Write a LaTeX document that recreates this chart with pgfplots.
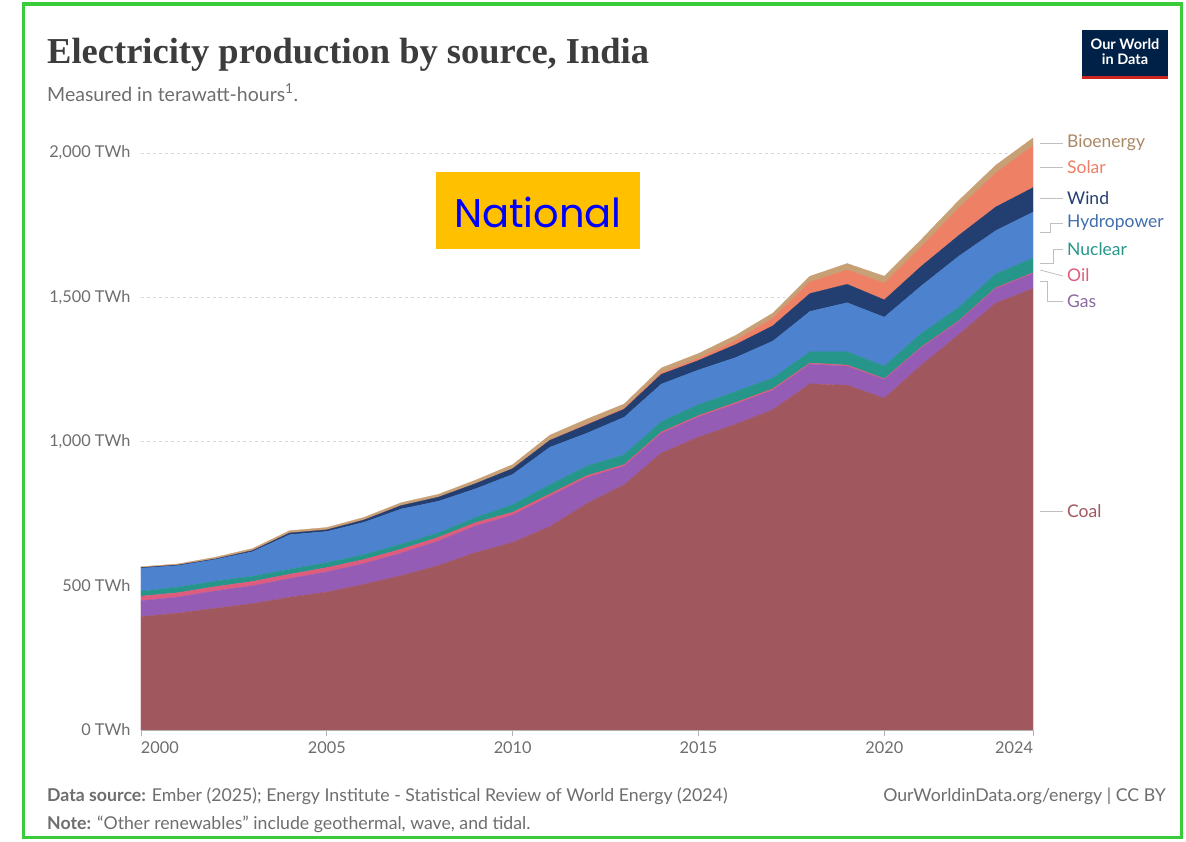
\documentclass[border=0pt]{standalone}
\usepackage{fontspec}
\usepackage{pgfplots}
\usepackage{pgfplotstable}
\pgfplotsset{compat=1.18}
\setmainfont{Lato}
\newfontfamily\titlefont{Liberation Serif}
\newfontfamily\natfont{Poppins}
\definecolor{coalc}{RGB}{161,87,94}
\definecolor{gasc}{RGB}{148,92,180}
\definecolor{oilc}{RGB}{222,92,125}
\definecolor{nucc}{RGB}{38,150,138}
\definecolor{hydc}{RGB}{76,130,206}
\definecolor{windc}{RGB}{35,62,112}
\definecolor{solc}{RGB}{238,128,102}
\definecolor{bioc}{RGB}{200,160,118}
\definecolor{bordc}{RGB}{57,203,57}
\definecolor{owidnavy}{RGB}{0,33,71}
\definecolor{owidred}{RGB}{206,38,30}
\definecolor{txtgray}{RGB}{110,110,110}
\definecolor{titlec}{RGB}{60,60,60}
\definecolor{natbox}{RGB}{255,192,0}
\pgfplotstableread{
year coal gas oil nuclear hydro wind solar bio
2000 393 55 16 17 80 2 0 3
2001 405 56 15 19 75 2 0 4
2002 422 60 15 19 75 2 0 6
2003 438 62 15 18 85 4 0 7
2004 460 65 15 17 120 6 0 8
2005 478 70 15 17 108 6 0 8
2006 505 72 14 17 112 8 0 9
2007 535 78 14 17 122 12 0 10
2008 570 85 13 15 110 14 0 10
2009 615 92 12 17 100 18 0 12
2010 650 95 10 26 105 20 0 14
2011 705 105 8 32 130 24 1 17
2012 785 90 7 33 114 29 2 18
2013 850 65 5 34 130 28 3 15
2014 960 68 5 36 130 34 5 17
2015 1015 70 5 38 120 33 7 17
2016 1060 70 5 38 118 45 14 18
2017 1110 68 5 37 128 53 26 18
2018 1200 68 4 39 140 62 40 20
2019 1195 66 4 46 170 64 50 22
2020 1150 65 3 43 170 60 58 24
2021 1265 60 3 47 165 68 68 25
2022 1370 45 3 46 178 72 95 26
2023 1480 50 3 48 150 82 118 27
2024 1530 52 3 50 160 85 145 27
}\india
\begin{document}
\begin{tikzpicture}[x=1pt,y=1pt]
\fill[white] (0,0) rectangle (1186,-841);
\draw[bordc, line width=3.5pt] (23.5,-4) rectangle (1181.5,-837.5);
% title
\node[anchor=base west, inner sep=0, text=titlec] at (47,-63) {\titlefont\bfseries\fontsize{36.5}{36.5}\selectfont Electricity production by source, India};
\node[anchor=base west, inner sep=0, text=txtgray] at (47,-101) {\fontsize{19.5}{19.5}\selectfont Measured in terawatt-hours\textsuperscript{1}.};
% logo
\fill[owidnavy] (1082,-30) rectangle (1168,-79);
\fill[owidred] (1082,-76) rectangle (1168,-79);
\node[text=white, align=center, inner sep=0, font=\bfseries\fontsize{14.5}{15}\selectfont] at (1125,-52) {Our World\\in Data};
\begin{axis}[
  at={(141pt,-730pt)}, anchor=south west, scale only axis,
  width=892pt, height=594.3pt,
  xmin=2000, xmax=2024, ymin=0, ymax=2060,
  stack plots=y,
  axis line style={draw=none},
  xtick={2000,2005,2010,2015,2020,2024},
  xticklabels={\makebox[0pt][l]{2000},2005,2010,2015,2020,\makebox[0pt][r]{2024}},
  xtick pos=bottom, ytick pos=left,
  tick align=outside, major tick length=6pt,
  xtick style={draw=gray!60, line width=0.8pt},
  ytick={0,500,1000,1500,2000},
  yticklabels={0 TWh,500 TWh,{1,000 TWh},{1,500 TWh},{2,000 TWh}},
  ytick style={draw=none},
  ymajorgrids,
  grid style={gray!30, dash pattern=on 3pt off 3pt, line width=1pt},
  tick label style={font=\fontsize{16.3}{16.3}\selectfont, text=txtgray},
  yticklabel style={xshift=-1pt},
  xticklabel style={yshift=-2pt},
  /pgf/number format/assume math mode=true,
]
\addplot[fill=coalc, draw=coalc, line width=0.3pt] table[x=year,y=coal]{\india} \closedcycle;
\addplot[fill=gasc, draw=gasc, line width=0.3pt] table[x=year,y=gas]{\india} \closedcycle;
\addplot[fill=oilc, draw=oilc, line width=0.3pt] table[x=year,y=oil]{\india} \closedcycle;
\addplot[fill=nucc, draw=nucc, line width=0.3pt] table[x=year,y=nuclear]{\india} \closedcycle;
\addplot[fill=hydc, draw=hydc, line width=0.3pt] table[x=year,y=hydro]{\india} \closedcycle;
\addplot[fill=windc, draw=windc, line width=0.3pt] table[x=year,y=wind]{\india} \closedcycle;
\addplot[fill=solc, draw=solc, line width=0.3pt] table[x=year,y=solar]{\india} \closedcycle;
\addplot[fill=bioc, draw=bioc, line width=0.3pt] table[x=year,y=bio]{\india} \closedcycle;
\end{axis}
\draw[gray!60, line width=0.8pt] (141,-730) -- (1033,-730);
% legend labels
\begin{scope}[every node/.style={anchor=west, inner sep=0, font=\fontsize{17.5}{17.5}\selectfont}]
\draw[gray!50, line width=0.8pt] (1040,-143) -- (1063,-143);
\node[text=bioc!85!black] at (1067,-143) {Bioenergy};
\draw[gray!50, line width=0.8pt] (1040,-167) -- (1063,-167);
\node[text=solc] at (1067,-167) {Solar};
\draw[gray!50, line width=0.8pt] (1040,-198) -- (1063,-198);
\node[text=windc] at (1067,-198) {Wind};
\draw[gray!50, line width=0.8pt] (1040,-232) -- (1050,-232) -- (1050,-223) -- (1063,-223);
\node[text=hydc!85!black] at (1067,-223) {Hydropower};
\draw[gray!50, line width=0.8pt] (1040,-263) -- (1053,-263) -- (1053,-249) -- (1063,-249);
\node[text=nucc] at (1067,-249) {Nuclear};
\draw[gray!50, line width=0.8pt] (1040,-270) -- (1063,-276);
\node[text=oilc] at (1067,-275) {Oil};
\draw[gray!50, line width=0.8pt] (1040,-281) -- (1047,-281) -- (1047,-301) -- (1063,-301);
\node[text=gasc!60!gray] at (1067,-301) {Gas};
\draw[gray!50, line width=0.8pt] (1040,-511) -- (1063,-511);
\node[text=coalc] at (1067,-511) {Coal};
\end{scope}
% National box
\fill[natbox] (436,-172) rectangle (640,-249);
\node[text=blue, inner sep=0] at (538,-212) {\natfont\fontsize{40}{40}\selectfont National};
% footer
\node[anchor=base west, inner sep=0, text=txtgray] at (47,-801) {\fontsize{17.7}{17.7}\selectfont\textbf{Data source:} Ember (2025); Energy Institute - Statistical Review of World Energy (2024)};
\node[anchor=base east, inner sep=0, text=txtgray] at (1166,-801) {\fontsize{17.7}{17.7}\selectfont OurWorldinData.org/energy | CC BY};
\node[anchor=base west, inner sep=0, text=txtgray] at (47,-829) {\fontsize{17.7}{17.7}\selectfont\textbf{Note:} “Other renewables” include geothermal, wave, and tidal.};
\end{tikzpicture}
\end{document}
